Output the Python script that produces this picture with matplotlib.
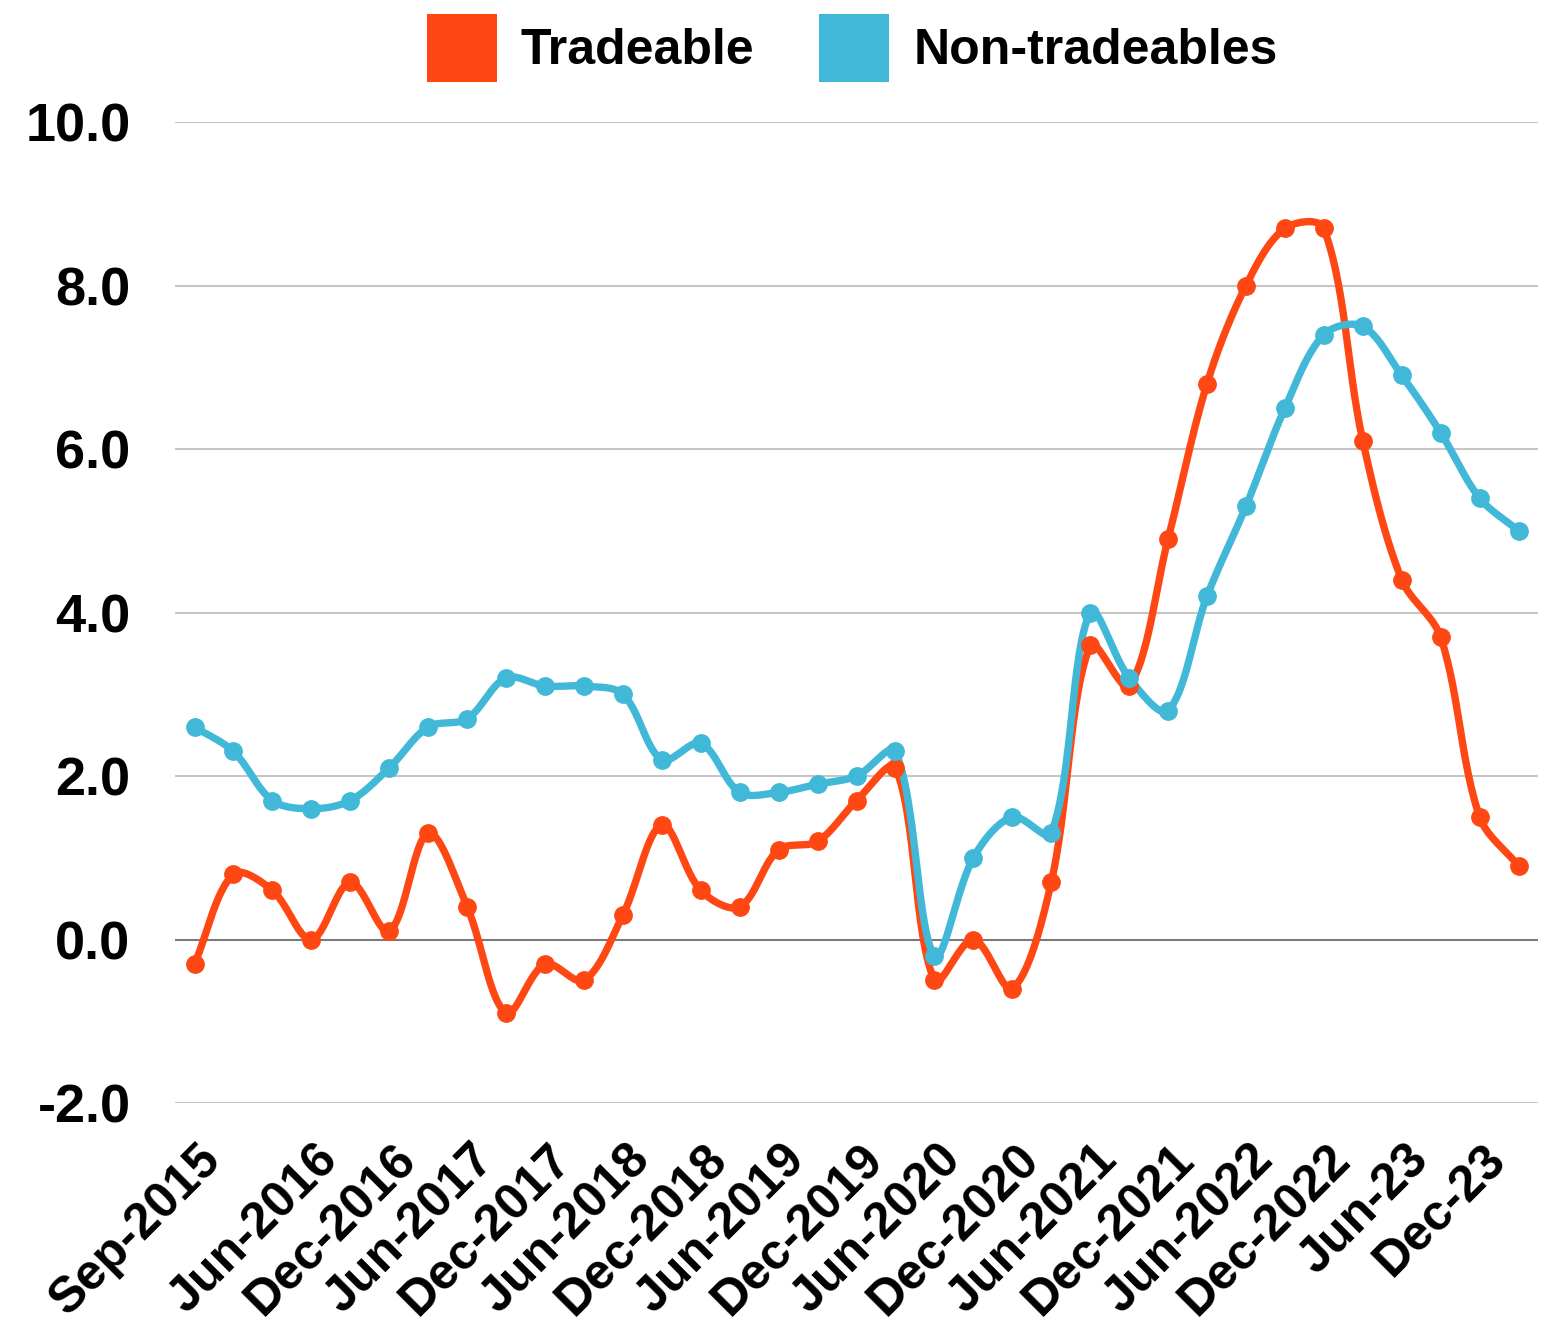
import numpy as np
import matplotlib
matplotlib.use('Agg')
import matplotlib.pyplot as plt
from matplotlib.patches import Patch
import matplotlib.transforms as mtransforms

# Quarterly inflation, Sep-2015 .. Mar-2024
quarters = ['Sep-2015', 'Dec-2015', 'Mar-2016', 'Jun-2016', 'Sep-2016', 'Dec-2016',
            'Mar-2017', 'Jun-2017', 'Sep-2017', 'Dec-2017', 'Mar-2018', 'Jun-2018',
            'Sep-2018', 'Dec-2018', 'Mar-2019', 'Jun-2019', 'Sep-2019', 'Dec-2019',
            'Mar-2020', 'Jun-2020', 'Sep-2020', 'Dec-2020', 'Mar-2021', 'Jun-2021',
            'Sep-2021', 'Dec-2021', 'Mar-2022', 'Jun-2022', 'Sep-2022', 'Dec-2022',
            'Mar-23', 'Jun-23', 'Sep-23', 'Dec-23', 'Mar-24']
tradeable = [-0.3, 0.8, 0.6, 0.0, 0.7, 0.1, 1.3, 0.4, -0.9, -0.3, -0.5, 0.3,
             1.4, 0.6, 0.4, 1.1, 1.2, 1.7, 2.1, -0.5, 0.0, -0.6, 0.7, 3.6,
             3.1, 4.9, 6.8, 8.0, 8.7, 8.7, 6.1, 4.4, 3.7, 1.5, 0.9]
non_tradeable = [2.6, 2.3, 1.7, 1.6, 1.7, 2.1, 2.6, 2.7, 3.2, 3.1, 3.1, 3.0,
                 2.2, 2.4, 1.8, 1.8, 1.9, 2.0, 2.3, -0.2, 1.0, 1.5, 1.3, 4.0,
                 3.2, 2.8, 4.2, 5.3, 6.5, 7.4, 7.5, 6.9, 6.2, 5.4, 5.0]
shown_ticks = [0, 3, 5, 7, 9, 11, 13, 15, 17, 19, 21, 23, 25, 27, 29, 31, 33]
yticks = [-2, 0, 2, 4, 6, 8, 10]

c_trade = '#FF4713'
c_non = '#41B8D8'
font = ['Liberation Sans', 'DejaVu Sans']


def smooth(ax, y, n=30):
	# smoothed line drawn as bezier segments in screen space, spreadsheet style
	pts = ax.transData.transform(np.column_stack([np.arange(len(y)), y]))
	t = np.linspace(0, 1, n)[:, None]
	out = []
	for i in range(len(pts) - 1):
		p1, p2 = pts[i], pts[i + 1]
		p0 = pts[i - 1] if i > 0 else p1
		p3 = pts[i + 2] if i + 2 < len(pts) else p2
		la, lb, lc = np.hypot(*(p1 - p0)), np.hypot(*(p2 - p1)), np.hypot(*(p3 - p2))
		c1 = p1 + (p2 - p0) / 3 * lb / (la + lb)
		c2 = p2 - (p3 - p1) / 3 * lb / (lb + lc)
		seg = (1 - t) ** 3 * p1 + 3 * (1 - t) ** 2 * t * c1 + 3 * (1 - t) * t ** 2 * c2 + t ** 3 * p2
		out.append(seg)
	xy = ax.transData.inverted().transform(np.vstack(out))
	return xy[:, 0], xy[:, 1]


fig = plt.figure(figsize=(15.52, 13.31), dpi=100)
ax = fig.add_axes([0.1128, 0.1713, 0.991 - 0.1128, 0.9083 - 0.1713])
ax.set_xlim(-0.5, len(quarters) - 0.5)
ax.set_ylim(-2, 10)

for v in yticks:
	if v != 0:
		ax.axhline(v, color='#C6C6C6', lw=1.5, zorder=1)
ax.axhline(0, color='#7A7A7A', lw=1.5, zorder=1)

idx = np.arange(len(quarters))
for series, col in ((tradeable, c_trade), (non_tradeable, c_non)):
	sx, sy = smooth(ax, series)
	ax.plot(sx, sy, color=col, lw=5.3, solid_capstyle='round', solid_joinstyle='round', zorder=3)
	ax.plot(idx, series, 'o', color=col, ms=12.5, zorder=4)

ax.set_yticks(yticks)
ax.set_yticklabels(['%.1f' % v for v in yticks], fontfamily=font, fontweight='bold', fontsize=39)
ax.set_xticks([])
ax.tick_params(axis='both', length=0)
ax.tick_params(axis='y', pad=32)
for s in ax.spines.values():
	s.set_visible(False)

# rotated category labels
lab_tr = mtransforms.offset_copy(mtransforms.blended_transform_factory(ax.transData, ax.transAxes),
                                 fig=fig, x=3, y=-33, units='dots')
for i in shown_ticks:
	ax.text(i, 0, quarters[i], transform=lab_tr, rotation=45, rotation_mode='anchor',
	        ha='right', va='top', fontfamily=font, fontweight='bold', fontsize=36)

handles = [Patch(facecolor=c_trade, label='Tradeable'),
           Patch(facecolor=c_non, label='Non-tradeables')]
fig.legend(handles=handles, loc='center', bbox_to_anchor=(0.549, 0.964), ncol=2,
           frameon=False, prop={'family': font, 'weight': 'bold', 'size': 36},
           handlelength=1.4, handleheight=1.7, handletextpad=0.48, columnspacing=1.3)

plt.savefig('out.png', dpi=100)
